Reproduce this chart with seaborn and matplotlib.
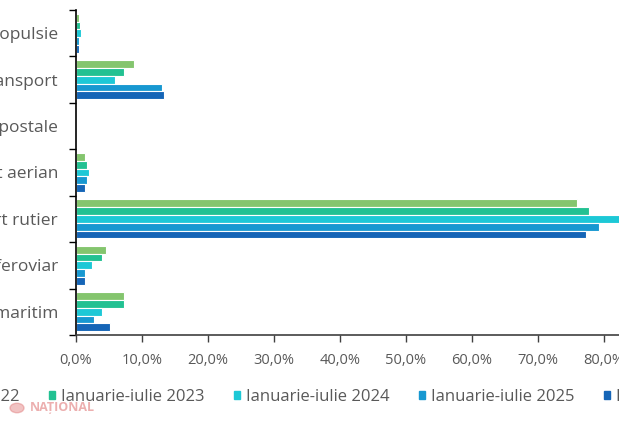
import matplotlib
matplotlib.use("Agg")
import matplotlib.pyplot as plt
import matplotlib.patches as mpatches
from matplotlib.ticker import FuncFormatter, FixedLocator
import numpy as np
import pandas as pd
import seaborn as sns

categorii = [
    "Autopropulsie",
    "Instalații fixe de transport",
    "Expedieri postale",
    "Transport aerian",
    "Transport rutier",
    "Transport feroviar",
    "Transport maritim",
]
perioade = [
    "Ianuarie-iulie 2022",
    "Ianuarie-iulie 2023",
    "Ianuarie-iulie 2024",
    "Ianuarie-iulie 2025",
    "Iulie 2025",
]
# share of each transport mode, %
v2022 = [0.5, 8.8, 0.0, 1.4, 75.9, 4.6, 7.3]
v2023 = [0.6, 7.3, 0.0, 1.6, 77.7, 3.9, 7.3]
v2024 = [0.8, 5.9, 0.0, 2.0, 84.5, 2.4, 3.9]
v2025 = [0.4, 13.1, 0.0, 1.6, 79.2, 1.4, 2.8]
vIul2025 = [0.4, 13.3, 0.0, 1.4, 77.3, 1.4, 5.1]
culori = ["#84c56e", "#22c192", "#1dc8d6", "#1798d1", "#1565b7"]

df = pd.DataFrame({
    "categorie": np.tile(categorii, len(perioade)),
    "perioada": np.repeat(perioade, len(categorii)),
    "valoare": np.concatenate([v2022, v2023, v2024, v2025, vIul2025]),
})

sns.set_theme(style="white")
plt.rcParams["font.family"] = ["Open Sans", "DejaVu Sans"]

W, H = 619, 421
fig = plt.figure(figsize=(W / 100, H / 100), dpi=100)
# plot area: x from 76 px (0%) to beyond the right edge (90%), y from 10 to 335 px
ax = fig.add_axes([76 / W, (H - 335) / H, 594 / W, 325 / H])

sns.barplot(data=df, y="categorie", x="valoare", hue="perioada",
            order=categorii, hue_order=perioade, palette=culori, saturation=1,
            orient="h", width=0.84, edgecolor="white", linewidth=0.8,
            legend=False, ax=ax)

ax.set_xlim(0, 90)
ax.set_ylim(len(categorii) - 0.5, -0.5)
ax.set_xlabel("")
ax.set_ylabel("")
ax.xaxis.set_major_locator(FixedLocator(np.arange(0, 91, 10)))
ax.xaxis.set_major_formatter(FuncFormatter(lambda v, p: f"{v:.1f}%".replace(".", ",")))

ax.yaxis.set_minor_locator(FixedLocator(np.arange(-0.5, len(categorii), 1)))
ax.tick_params(axis="y", which="major", length=0, pad=13, labelsize=12.5, labelcolor="#595959")
ax.tick_params(axis="y", which="minor", left=True, length=5, width=1, color="#000000")
ax.tick_params(axis="x", which="major", bottom=True, length=5, width=1, color="#404040",
               pad=8, labelsize=10.5, labelcolor="#595959")

for s in ["top", "right"]:
    ax.spines[s].set_visible(False)
ax.spines["left"].set_color("#000000")
ax.spines["left"].set_linewidth(1.2)
ax.spines["bottom"].set_color("#404040")
ax.spines["bottom"].set_linewidth(1.2)

handles = [mpatches.Patch(color=c) for c in culori]
leg_y = (H - 397) / H
leg = fig.legend(handles, perioade, ncol=5, loc="center left",
                 bbox_to_anchor=(0, leg_y), frameon=False,
                 borderpad=0, borderaxespad=0, handlelength=0.38, handleheight=0.38,
                 handletextpad=0.35, columnspacing=1.75,
                 prop={"size": 12}, labelcolor="#595959")
# shift the legend so the 2023 marker sits where it does in the original (x ~ 49 px)
fig.canvas.draw()
x_h = leg.legend_handles[1].get_window_extent().x0
leg.set_bbox_to_anchor((-(x_h - 49) / W, leg_y), transform=fig.transFigure)

# watermark
fig.patches.append(mpatches.Circle((17 / W, (H - 408) / H), 7 / W, transform=fig.transFigure,
                                   color="#e07a7a", alpha=0.45))
fig.text(30 / W, (H - 408) / H, "NAȚIONAL", color="#e07a7a", alpha=0.6,
         fontsize=9, fontweight="bold", va="center", ha="left")

fig.savefig("out.png", dpi=100)
